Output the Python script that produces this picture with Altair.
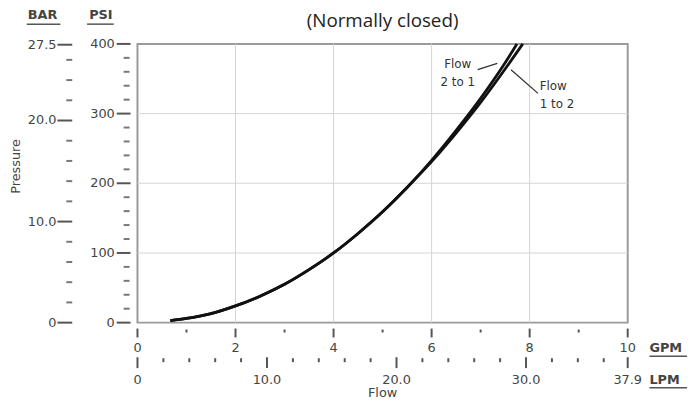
import altair as alt
import pandas as pd

# ---- data ----
flow_21 = [0.67, 1.0, 1.5, 2.0, 2.5, 3.0, 3.5, 4.0, 4.5, 5.0, 5.5, 6.0, 6.5, 7.0, 7.5, 7.74]
psi_21 = [3, 6, 13, 24, 38, 55, 76, 100, 128, 159, 194, 233, 276, 322, 373, 400]
flow_12 = [0.67, 1.0, 1.5, 2.0, 2.5, 3.0, 3.5, 4.0, 4.5, 5.0, 5.5, 6.0, 6.5, 7.0, 7.5, 7.86]
psi_12 = [3, 6, 13, 24, 38, 55, 76, 100, 128, 159, 194, 231, 272, 316, 364, 400]

gpm_major = [0, 2, 4, 6, 8, 10]
gpm_minor = [1, 3, 5, 7, 9]
lpm_major = [0, 10, 20, 30, 37.85]
lpm_major_labels = ["0", "10.0", "20.0", "30.0", "37.9"]
lpm_minor = [2, 4, 6, 8, 12, 14, 16, 18, 22, 24, 26, 28, 32, 34, 36]
LPM_PER_GPM = 3.785

psi_major = [0, 100, 200, 300, 400]
psi_minor = [20, 40, 60, 80, 120, 140, 160, 180, 220, 240, 260, 280, 320, 340, 360, 380]
bar_major = [0, 10, 20, 27.5]
bar_major_labels = ["0", "10.0", "20.0", "27.5"]
bar_minor = [2, 4, 6, 8, 12, 14, 16, 18, 22, 24, 26]
PSI_PER_BAR = 14.5038

grid_x = [2, 4, 6, 8]
grid_y = [100, 200, 300]

leader_21_q = [6.94, 7.34]
leader_21_p = [363, 372]
leader_12_q = [7.62, 8.17]
leader_12_p = [363, 329]

# ---- tables ----
curves = pd.concat([
    pd.DataFrame({"Q": flow_21, "psi": psi_21, "dir": "2 to 1"}),
    pd.DataFrame({"Q": flow_12, "psi": psi_12, "dir": "1 to 2"}),
])
gmaj = pd.DataFrame({"Q": gpm_major, "lab": [str(v) for v in gpm_major]})
gmin = pd.DataFrame({"Q": gpm_minor})
lmaj = pd.DataFrame({"Q": [v / LPM_PER_GPM for v in lpm_major], "lab": lpm_major_labels})
lmin = pd.DataFrame({"Q": [v / LPM_PER_GPM for v in lpm_minor]})
pmaj = pd.DataFrame({"psi": psi_major, "lab": [str(v) for v in psi_major]})
pmin = pd.DataFrame({"psi": psi_minor})
bmaj = pd.DataFrame({"psi": [v * PSI_PER_BAR for v in bar_major], "lab": bar_major_labels})
bmin = pd.DataFrame({"psi": [v * PSI_PER_BAR for v in bar_minor]})
gx = pd.DataFrame({"Q": grid_x})
gy = pd.DataFrame({"psi": grid_y})
leaders = pd.concat([
    pd.DataFrame({"Q": leader_21_q, "psi": leader_21_p, "id": "a"}),
    pd.DataFrame({"Q": leader_12_q, "psi": leader_12_p, "id": "b"}),
])

xs = alt.Scale(domain=[0, 10], nice=False, zero=False)
ys = alt.Scale(domain=[0, 400], nice=False, zero=False)

TICK = "#555555"
TXT = "#444444"
FONT = "DejaVu Sans"
GRID = "#d4d4d4"

def X(f="Q"):
    return alt.X(f"{f}:Q", scale=xs, axis=None)

def Y(f="psi"):
    return alt.Y(f"{f}:Q", scale=ys, axis=None)

grid_v = alt.Chart(gx).mark_rule(color=GRID, strokeWidth=1).encode(x=X(), y=alt.value(0), y2=alt.value(282))
grid_h = alt.Chart(gy).mark_rule(color=GRID, strokeWidth=1).encode(y=Y(), x=alt.value(0), x2=alt.value(496))

lines = alt.Chart(curves).mark_line(color="#111111", strokeWidth=2.8, interpolate="monotone").encode(
    x=X(), y=Y(), detail="dir:N",
)

lead = alt.Chart(leaders).mark_line(color="#333333", strokeWidth=1.3).encode(x=X(), y=Y(), detail="id:N")

# bottom axes
g_major = alt.Chart(gmaj).mark_rule(color=TICK, strokeWidth=2).encode(x=X(), y=alt.value(288), y2=alt.value(297))
g_minor = alt.Chart(gmin).mark_rule(color=TICK, strokeWidth=2).encode(x=X(), y=alt.value(289), y2=alt.value(292))
g_lab = alt.Chart(gmaj).mark_text(color=TXT, font=FONT, fontSize=13, baseline="middle").encode(
    x=X(), y=alt.value(308), text="lab:N")
l_major = alt.Chart(lmaj).mark_rule(color=TICK, strokeWidth=2).encode(x=X(), y=alt.value(317), y2=alt.value(328))
l_minor = alt.Chart(lmin).mark_rule(color=TICK, strokeWidth=2).encode(x=X(), y=alt.value(318), y2=alt.value(322))
l_lab = alt.Chart(lmaj).mark_text(color=TXT, font=FONT, fontSize=13, baseline="middle").encode(
    x=X(), y=alt.value(340), text="lab:N")

# left axes
p_major = alt.Chart(pmaj).mark_rule(color=TICK, strokeWidth=2).encode(y=Y(), x=alt.value(-21), x2=alt.value(-7))
p_minor = alt.Chart(pmin).mark_rule(color="#777777", strokeWidth=2).encode(y=Y(), x=alt.value(-14), x2=alt.value(-8))
p_lab = alt.Chart(pmaj).mark_text(color=TXT, font=FONT, fontSize=13, align="right", baseline="middle").encode(
    y=Y(), x=alt.value(-23), text="lab:N")
b_major = alt.Chart(bmaj).mark_rule(color=TICK, strokeWidth=2).encode(y=Y(), x=alt.value(-81), x2=alt.value(-66))
b_minor = alt.Chart(bmin).mark_rule(color="#777777", strokeWidth=2).encode(y=Y(), x=alt.value(-72), x2=alt.value(-66))
b_lab = alt.Chart(bmaj).mark_text(color=TXT, font=FONT, fontSize=13, align="right", baseline="middle").encode(
    y=Y(), x=alt.value(-82), text="lab:N")

# static texts
def label(text, x, y, size=13, weight="normal", align="center", angle=0, font=FONT, color=TXT, baseline="middle"):
    kw = dict(text=text, color=color, font=font, fontSize=size, fontWeight=weight, align=align, baseline=baseline)
    if angle:
        kw["angle"] = angle
    return alt.Chart(pd.DataFrame({"k": [0]})).mark_text(**kw).encode(x=alt.value(x), y=alt.value(y))

def uline(x1, x2, y):
    return alt.Chart(pd.DataFrame({"k": [0]})).mark_rule(color="#555555", strokeWidth=1.5).encode(
        x=alt.value(x1), x2=alt.value(x2), y=alt.value(y))

texts = [
    label("(Normally closed)", 248, -17, size=19, font="Open Sans", color="#222222", baseline="alphabetic"),
    label("BAR", -96, -29, size=13, weight="bold"), uline(-112, -78, -20),
    label("PSI", -37, -29, size=13, weight="bold"), uline(-51, -24, -20),
    label("Pressure", -123, 124, size=13, angle=270),
    label("Flow", 248, 353, size=13),
    label("GPM", 518, 308, size=13, weight="bold", align="left"), uline(518, 556, 316),
    label("LPM", 518, 340, size=13, weight="bold", align="left"), uline(518, 556, 348),
    label("Flow", 324, 20, size=12, color="#333333"),
    label("2 to 1", 324, 39, size=12, color="#333333"),
    label("Flow", 407, 43, size=12, color="#333333", align="left"),
    label("1 to 2", 407, 61, size=12, color="#333333", align="left"),
]

chart = alt.layer(
    grid_v, grid_h, lines, lead,
    g_major, g_minor, g_lab, l_major, l_minor, l_lab,
    p_major, p_minor, p_lab, b_major, b_minor, b_lab,
    *texts,
).properties(
    width=496, height=282,
    autosize=alt.AutoSizeParams(type="none"),
    padding={"left": 131, "top": 34, "right": 60, "bottom": 81},
).configure_view(stroke="#9a9a9a", strokeWidth=2)

chart.save("out.html", embed_options={"renderer": "svg", "actions": False})
